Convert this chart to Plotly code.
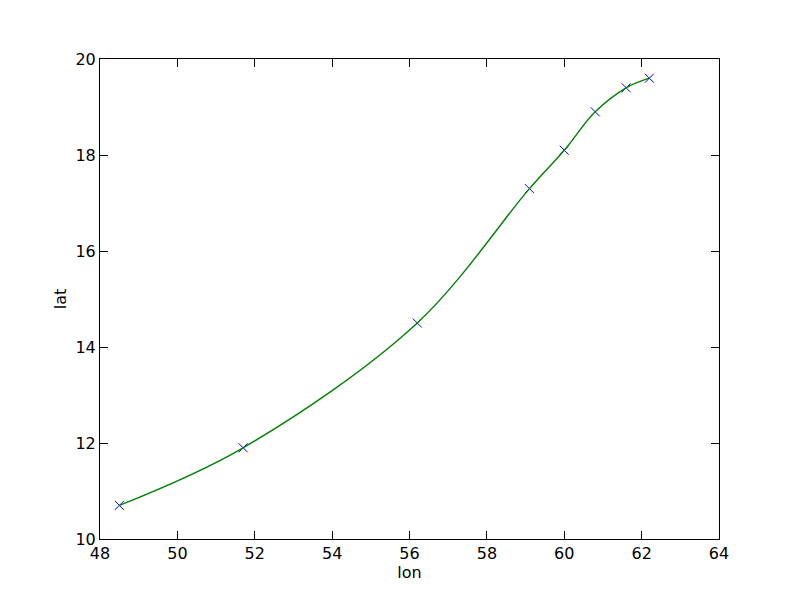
import plotly.graph_objects as go

lon = [48.5, 51.7, 56.2, 59.1, 60.0, 60.8, 61.6, 62.2]
lat = [10.7, 11.9, 14.5, 17.3, 18.1, 18.9, 19.4, 19.6]

x_ticks = [48, 50, 52, 54, 56, 58, 60, 62, 64]
y_ticks = [10, 12, 14, 16, 18, 20]

fig = go.Figure()
fig.add_trace(go.Scatter(
    x=lon, y=lat, mode="markers",
    marker=dict(symbol="x-thin", size=9, color="#0000ff",
                line=dict(color="#0000ff", width=1)),
    showlegend=False,
))
fig.add_trace(go.Scatter(
    x=lon, y=lat, mode="lines",
    line=dict(color="#008000", width=1.4, shape="spline", smoothing=1.0),
    hoverinfo="skip", showlegend=False,
))

axis_common = dict(
    showgrid=False, zeroline=False, showline=True, linecolor="black",
    linewidth=1, mirror="allticks", ticks="inside", ticklen=8,
    tickcolor="black", tickwidth=1,
    tickfont=dict(family="DejaVu Sans", size=16, color="black"),
)
fig.update_xaxes(range=[48, 64], tickvals=x_ticks,
                 ticktext=[str(v) for v in x_ticks],
                 title=dict(text="lon", font=dict(family="DejaVu Sans", size=16, color="black"), standoff=4),
                 **axis_common)
fig.update_yaxes(range=[10, 20], tickvals=y_ticks,
                 ticktext=[str(v) for v in y_ticks],
                 title=dict(text="lat", font=dict(family="DejaVu Sans", size=16, color="black"), standoff=4),
                 **axis_common)
fig.update_layout(
    width=800, height=600,
    margin=dict(l=92, r=89, t=51, b=69),
    paper_bgcolor="white", plot_bgcolor="white",
)
fig.write_html("out.html")
